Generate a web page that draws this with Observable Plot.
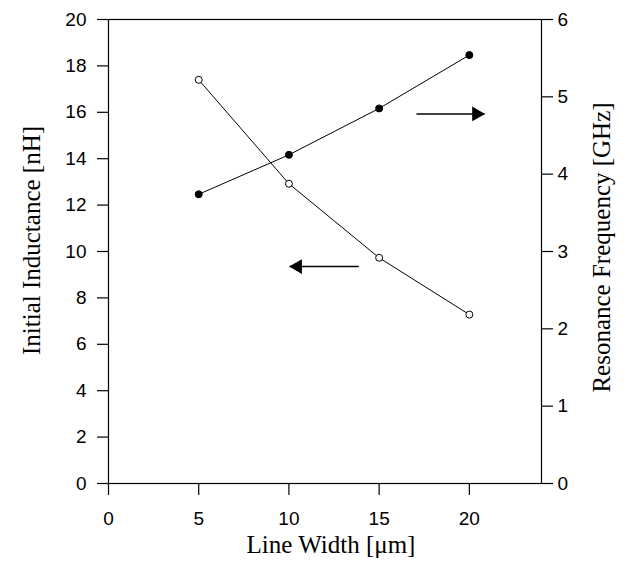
<!DOCTYPE html>
<html>
<head>
<meta charset="utf-8">
<script src="https://cdn.jsdelivr.net/npm/d3@7"></script>
<script src="https://cdn.jsdelivr.net/npm/@observablehq/plot@0.6"></script>
<style>
  html, body { margin: 0; padding: 0; background: white; }
</style>
</head>
<body>
<div id="chart"></div>
<script>
// Data
const lineWidth = [5, 10, 15, 20];               // µm
const inductance = [17.4, 12.92, 9.73, 7.28];    // nH (left axis)
const resonance = [3.74, 4.25, 4.85, 5.54];      // GHz (right axis)

const xTicks = [0, 5, 10, 15, 20];
const leftTicks = [0, 2, 4, 6, 8, 10, 12, 14, 16, 18, 20];
const rightTicks = [0, 1, 2, 3, 4, 5, 6];

// Annotation arrows (data coordinates, left-axis units)
const arrowTailX = [13.87, 17.07];
const arrowTipX = [10.04, 20.84];
const arrowY = [9.35, 15.93];
const arrowDir = [-1, 1];

const leftMax = 20, rightMax = 6;
const toLeft = g => g * leftMax / rightMax;

const indData = lineWidth.map((w, i) => ({x: w, y: inductance[i]}));
const resData = lineWidth.map((w, i) => ({x: w, y: toLeft(resonance[i])}));
const arrows = arrowTailX.map((t, i) => ({x1: t, x2: arrowTipX[i], y: arrowY[i], dir: arrowDir[i]}));

const serif = "'Liberation Serif', 'Times New Roman', serif";

const chart = Plot.plot({
  width: 628,
  height: 571,
  marginLeft: 108,
  marginRight: 87,
  marginTop: 19,
  marginBottom: 88,
  x: {domain: [0, 24]},
  y: {domain: [0, leftMax]},
  style: {fontFamily: "'Liberation Sans', Arial, sans-serif", fontSize: "19px", color: "black", background: "white"},
  marks: [
    Plot.frame({stroke: "black", strokeWidth: 1.2}),
    Plot.axisX(xTicks, {tickSize: 12, tickPadding: 16, label: null, strokeWidth: 1.2}),
    Plot.axisY(leftTicks, {anchor: "left", tickSize: 11, tickPadding: 11, label: null, strokeWidth: 1.2}),
    Plot.axisY(rightTicks.map(toLeft), {anchor: "right", tickSize: 11, tickPadding: 5, label: null, strokeWidth: 1.2,
      tickFormat: d => String(Math.round(d * rightMax / leftMax))}),
    // series lines
    Plot.line(indData, {x: "x", y: "y", stroke: "black", strokeWidth: 1}),
    Plot.line(resData, {x: "x", y: "y", stroke: "black", strokeWidth: 1}),
    Plot.dot(indData, {x: "x", y: "y", r: 3.5, fill: "white", stroke: "black", strokeWidth: 1}),
    Plot.dot(resData, {x: "x", y: "y", r: 3.5, fill: "black", stroke: "black", strokeWidth: 1}),
    // arrows
    Plot.link(arrows, {x1: "x1", x2: "x2", y1: "y", y2: "y", stroke: "black", strokeWidth: 1.5}),
    Plot.dot(arrows.filter(a => a.dir > 0), {x: "x2", y: "y", symbol: "triangle", r: 5.5, fill: "black", stroke: "none", rotate: 90, dx: -8}),
    Plot.dot(arrows.filter(a => a.dir < 0), {x: "x2", y: "y", symbol: "triangle", r: 5.5, fill: "black", stroke: "none", rotate: -90, dx: 8}),
    // axis titles
    Plot.text(["Initial Inductance [nH]"], {frameAnchor: "left", textAnchor: "middle", rotate: -90, dx: -77, dy: -11,
      fontFamily: serif, fontSize: 25, fill: "black"}),
    Plot.text(["Resonance Frequency [GHz]"], {frameAnchor: "right", textAnchor: "middle", rotate: -90, dx: 60, dy: -4,
      fontFamily: serif, fontSize: 25, fill: "black"}),
    Plot.text(["Line Width [μm]"], {frameAnchor: "bottom", textAnchor: "middle", dx: 6, dy: 69,
      fontFamily: serif, fontSize: 25, fill: "black"})
  ]
});
document.getElementById("chart").appendChild(chart);
</script>
</body>
</html>
